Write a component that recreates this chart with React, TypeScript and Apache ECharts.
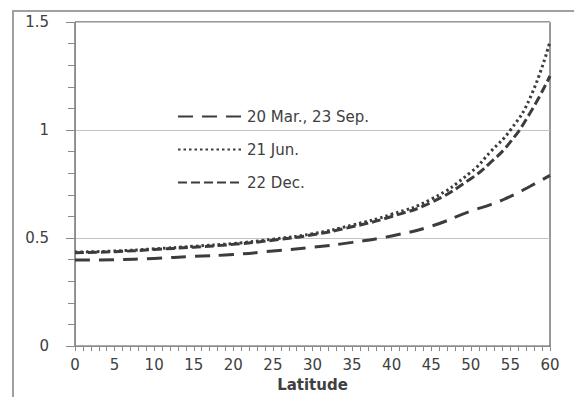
import React, { useEffect, useRef } from "react";
import * as echarts from "echarts";

const latitudes = [0, 5, 10, 15, 20, 25, 30, 35, 40, 45, 50, 52.5, 55, 57.5, 60];
const marSep = [0.398, 0.4, 0.406, 0.415, 0.424, 0.44, 0.457, 0.48, 0.51, 0.555, 0.625, 0.655, 0.693, 0.74, 0.79];
const jun = [0.435, 0.44, 0.45, 0.462, 0.475, 0.495, 0.52, 0.56, 0.61, 0.68, 0.805, 0.9, 1.0, 1.15, 1.41];
const dec = [0.432, 0.437, 0.447, 0.458, 0.471, 0.49, 0.515, 0.552, 0.6, 0.665, 0.775, 0.85, 0.945, 1.08, 1.25];
const seriesNames = ["20 Mar., 23 Sep.", "21 Jun.", "22 Dec."];
const xTitle = "Latitude";

const FONT = "DejaVu Sans";
const TEXT = "#404040";
const CURVE = "#3c3c3c";

export default function App() {
  const ref = useRef<HTMLDivElement>(null);
  useEffect(() => {
    if (!ref.current) return;
    const chart = echarts.init(ref.current, undefined, { renderer: "svg" });
    const pair = (arr: number[]) => latitudes.map((x, i) => [x, arr[i]]);
    chart.setOption({
      animation: false,
      backgroundColor: "#fff",
      textStyle: { fontFamily: FONT },
      graphic: [
        {
          type: "rect",
          shape: { x: 13, y: 11, width: 620, height: 420 },
          style: { fill: "none", stroke: "#a0a0a0", lineWidth: 2 },
          silent: true,
          z: -1,
        },
      ],
      grid: {
        left: 75,
        right: 24,
        top: 22,
        bottom: 41,
        show: true,
        borderColor: "#333",
        borderWidth: 1,
        backgroundColor: "transparent",
      },
      legend: {
        orient: "vertical",
        left: 172,
        top: 104,
        itemWidth: 64,
        itemHeight: 14,
        itemGap: 18,
        data: seriesNames,
        itemStyle: { opacity: 0 },
        textStyle: { fontFamily: FONT, fontSize: 15, color: TEXT },
      },
      xAxis: {
        type: "value",
        min: 0,
        max: 60,
        interval: 5,
        name: xTitle,
        nameLocation: "middle",
        nameGap: 28,
        nameTextStyle: { fontFamily: FONT, fontSize: 15, fontWeight: "bold", color: TEXT },
        axisLine: { show: true, lineStyle: { color: "#8a8a8a", width: 1 } },
        axisTick: { show: true, length: 5, lineStyle: { color: "#8a8a8a" } },
        minorTick: { show: true, splitNumber: 5, length: 5, lineStyle: { color: "#8a8a8a" } },
        axisLabel: { fontFamily: FONT, fontSize: 15, color: TEXT, margin: 11 },
        splitLine: { show: false },
      },
      yAxis: {
        type: "value",
        min: 0,
        max: 1.5,
        interval: 0.5,
        axisLine: { show: true, lineStyle: { color: "#8a8a8a", width: 1 } },
        axisTick: { show: true, length: 9, lineStyle: { color: "#8a8a8a" } },
        minorTick: { show: true, splitNumber: 5, length: 7, lineStyle: { color: "#8a8a8a" } },
        axisLabel: { fontFamily: FONT, fontSize: 15, color: TEXT, margin: 26 },
        splitLine: { show: true, lineStyle: { color: "#c4c4c4", width: 1 } },
      },
      series: [
        {
          name: seriesNames[0],
          type: "line",
          data: pair(marSep),
          smooth: true,
          showSymbol: false,
          symbol: "none",
          lineStyle: { color: CURVE, width: 3, type: [15, 9] },
          itemStyle: { color: CURVE },
        },
        {
          name: seriesNames[1],
          type: "line",
          data: pair(jun),
          smooth: true,
          showSymbol: false,
          symbol: "none",
          lineStyle: { color: CURVE, width: 3, type: [2.5, 3] },
          itemStyle: { color: CURVE },
        },
        {
          name: seriesNames[2],
          type: "line",
          data: pair(dec),
          smooth: true,
          showSymbol: false,
          symbol: "none",
          lineStyle: { color: CURVE, width: 3, type: [9, 4] },
          itemStyle: { color: CURVE },
        },
      ],
    });
    return () => chart.dispose();
  }, []);
  return <div ref={ref} style={{ width: 574, height: 397, position: "absolute", left: 0, top: 0 }} />;
}
